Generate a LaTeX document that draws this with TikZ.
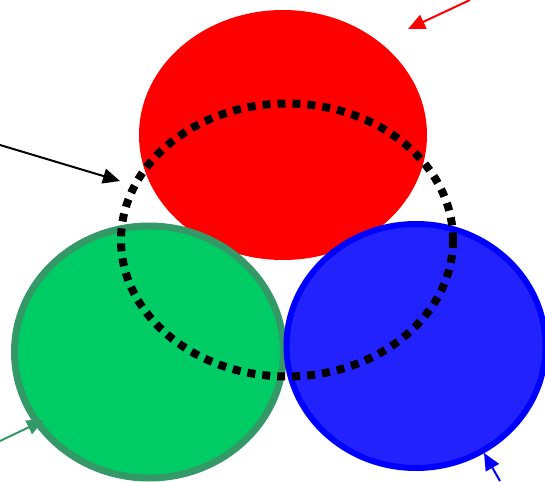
\documentclass[tikz,border=0pt]{standalone}
\usetikzlibrary{arrows.meta}
\definecolor{redc}{HTML}{FF0000}
\definecolor{greenfill}{HTML}{00CC66}
\definecolor{greenline}{HTML}{339966}
\definecolor{bluefill}{HTML}{2222FF}
\definecolor{blueline}{HTML}{0000FF}
\tikzset{
  pointer/.style={line width=2pt,-{Triangle[length=17pt,width=15pt]}},
  dotring/.style={line width=8pt,dash pattern=on 8pt off 7pt},
}
\begin{document}
\begin{tikzpicture}[x=1pt,y=-1pt]
\useasboundingbox (0,0) rectangle (545,481);
\clip (0,0) rectangle (545,481);
% red
\fill[redc] (283,135) ellipse [x radius=144, y radius=125];
% green
\filldraw[fill=greenfill,draw=greenline,line width=7pt] (149,352) ellipse [x radius=134.5, y radius=126];
% blue
\filldraw[fill=bluefill,draw=blueline,line width=6pt] (416,346) ellipse [x radius=129.5, y radius=122];
% dotted ring
\draw[dotring] (287,240) ellipse [x radius=166, y radius=136.5];
% arrows
\coordinate (rs) at (470,0);
\coordinate (rt) at (408,29);
\coordinate (ks) at (0,145);
\coordinate (kt) at (120,181);
\coordinate (gs) at (0,441);
\coordinate (gt) at (44,420);
\coordinate (bs) at (500,481);
\coordinate (bt) at (484,453);
\draw[pointer,redc] (rs) -- (rt);
\draw[pointer,black] (ks) -- (kt);
\draw[pointer,greenline] (gs) -- (gt);
\draw[pointer,blueline] (bs) -- (bt);
\end{tikzpicture}
\end{document}
